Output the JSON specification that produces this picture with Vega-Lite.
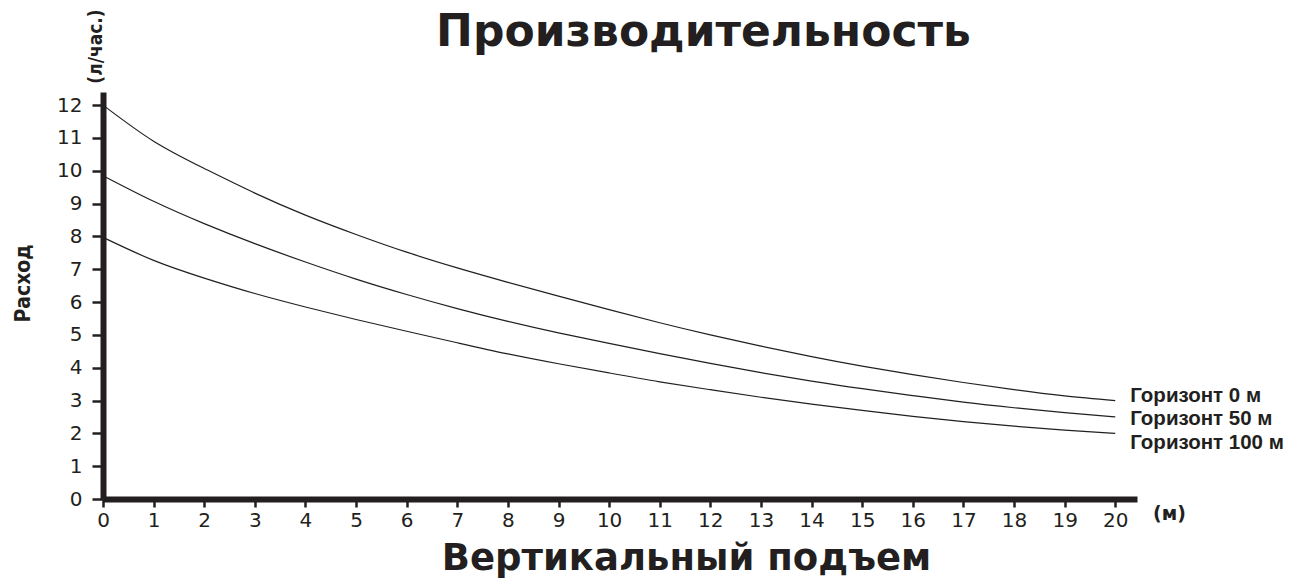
{
  "$schema": "https://vega.github.io/schema/vega-lite/v6.json",
  "width": 1034,
  "height": 407,
  "autosize": {"type": "none"},
  "padding": {"left": 103, "top": 92, "right": 153, "bottom": 81},
  "background": "white",
  "config": {"view": {"stroke": null}},
  "data": {"values": [
    {"x":0,"y":12,"s":"Горизонт 0 м"},{"x":1,"y":10.9,"s":"Горизонт 0 м"},{"x":2,"y":10.07,"s":"Горизонт 0 м"},{"x":3,"y":9.32,"s":"Горизонт 0 м"},{"x":4,"y":8.65,"s":"Горизонт 0 м"},{"x":5,"y":8.06,"s":"Горизонт 0 м"},{"x":6,"y":7.52,"s":"Горизонт 0 м"},{"x":7,"y":7.04,"s":"Горизонт 0 м"},{"x":8,"y":6.6,"s":"Горизонт 0 м"},{"x":9,"y":6.18,"s":"Горизонт 0 м"},{"x":10,"y":5.77,"s":"Горизонт 0 м"},{"x":11,"y":5.37,"s":"Горизонт 0 м"},{"x":12,"y":5.0,"s":"Горизонт 0 м"},{"x":13,"y":4.66,"s":"Горизонт 0 м"},{"x":14,"y":4.34,"s":"Горизонт 0 м"},{"x":15,"y":4.05,"s":"Горизонт 0 м"},{"x":16,"y":3.79,"s":"Горизонт 0 м"},{"x":17,"y":3.55,"s":"Горизонт 0 м"},{"x":18,"y":3.33,"s":"Горизонт 0 м"},{"x":19,"y":3.14,"s":"Горизонт 0 м"},{"x":20,"y":3.0,"s":"Горизонт 0 м"},
    {"x":0,"y":9.85,"s":"Горизонт 50 м"},{"x":1,"y":9.07,"s":"Горизонт 50 м"},{"x":2,"y":8.39,"s":"Горизонт 50 м"},{"x":3,"y":7.78,"s":"Горизонт 50 м"},{"x":4,"y":7.22,"s":"Горизонт 50 м"},{"x":5,"y":6.7,"s":"Горизонт 50 м"},{"x":6,"y":6.23,"s":"Горизонт 50 м"},{"x":7,"y":5.8,"s":"Горизонт 50 м"},{"x":8,"y":5.41,"s":"Горизонт 50 м"},{"x":9,"y":5.06,"s":"Горизонт 50 м"},{"x":10,"y":4.74,"s":"Горизонт 50 м"},{"x":11,"y":4.43,"s":"Горизонт 50 м"},{"x":12,"y":4.13,"s":"Горизонт 50 м"},{"x":13,"y":3.85,"s":"Горизонт 50 м"},{"x":14,"y":3.59,"s":"Горизонт 50 м"},{"x":15,"y":3.36,"s":"Горизонт 50 м"},{"x":16,"y":3.15,"s":"Горизонт 50 м"},{"x":17,"y":2.95,"s":"Горизонт 50 м"},{"x":18,"y":2.78,"s":"Горизонт 50 м"},{"x":19,"y":2.63,"s":"Горизонт 50 м"},{"x":20,"y":2.5,"s":"Горизонт 50 м"},
    {"x":0,"y":7.97,"s":"Горизонт 100 м"},{"x":1,"y":7.27,"s":"Горизонт 100 м"},{"x":2,"y":6.73,"s":"Горизонт 100 м"},{"x":3,"y":6.26,"s":"Горизонт 100 м"},{"x":4,"y":5.85,"s":"Горизонт 100 м"},{"x":5,"y":5.47,"s":"Горизонт 100 м"},{"x":6,"y":5.11,"s":"Горизонт 100 м"},{"x":7,"y":4.76,"s":"Горизонт 100 м"},{"x":8,"y":4.42,"s":"Горизонт 100 м"},{"x":9,"y":4.12,"s":"Горизонт 100 м"},{"x":10,"y":3.84,"s":"Горизонт 100 м"},{"x":11,"y":3.57,"s":"Горизонт 100 м"},{"x":12,"y":3.33,"s":"Горизонт 100 м"},{"x":13,"y":3.1,"s":"Горизонт 100 м"},{"x":14,"y":2.89,"s":"Горизонт 100 м"},{"x":15,"y":2.7,"s":"Горизонт 100 м"},{"x":16,"y":2.52,"s":"Горизонт 100 м"},{"x":17,"y":2.36,"s":"Горизонт 100 м"},{"x":18,"y":2.22,"s":"Горизонт 100 м"},{"x":19,"y":2.1,"s":"Горизонт 100 м"},{"x":20,"y":2.0,"s":"Горизонт 100 м"}
  ]},
  "layer": [
    {
      "mark": {"type": "line", "color": "#231f20", "strokeWidth": 1.2, "interpolate": "natural", "clip": false},
      "encoding": {
        "x": {"field": "x", "type": "quantitative",
              "scale": {"domain": [0, 20.43], "nice": false, "zero": false},
              "axis": {"values": [0,1,2,3,4,5,6,7,8,9,10,11,12,13,14,15,16,17,18,19,20],
                       "grid": false, "domainColor": "#231f20", "domainWidth": 6,
                       "tickColor": "#231f20", "tickWidth": 2.5, "tickSize": 8,
                       "labelFont": "DejaVu Sans", "labelFontSize": 20, "labelColor": "#231f20",
                       "labelPadding": 3, "labelBaseline": "top", "labelFlush": false,
                       "title": "Вертикальный подъем", "titleFont": "DejaVu Sans", "titleFontWeight": "bold",
                       "titleFontSize": 37, "titleColor": "#231f20",
                       "titleX": 583, "titleY": 70, "titleAlign": "center", "titleBaseline": "alphabetic"}},
        "y": {"field": "y", "type": "quantitative",
              "scale": {"domain": [0, 12.4], "nice": false},
              "axis": {"values": [0,1,2,3,4,5,6,7,8,9,10,11,12],
                       "grid": false, "domainColor": "#231f20", "domainWidth": 6,
                       "tickColor": "#231f20", "tickWidth": 2.5, "tickSize": 11,
                       "labelFont": "DejaVu Sans", "labelFontSize": 20, "labelColor": "#231f20",
                       "labelPadding": 10, "labelFlush": false,
                       "title": "Расход", "titleFont": "Liberation Sans Narrow, DejaVu Sans Condensed, Liberation Sans", "titleFontWeight": "bold",
                       "titleFontSize": 21, "titleColor": "#231f20",
                       "titleX": -80, "titleY": 191, "titleAngle": -90, "titleAlign": "center", "titleBaseline": "middle"}},
        "detail": {"field": "s"}
      }
    },
    {
      "transform": [{"filter": "datum.x == 20 && datum.s == 'Горизонт 0 м'"}],
      "mark": {"type": "text", "align": "left", "baseline": "middle", "dx": 15, "dy": -5,
               "font": "Liberation Sans", "fontWeight": "bold", "fontSize": 20.5, "color": "#231f20"},
      "encoding": {
        "x": {"field": "x", "type": "quantitative",
              "axis": {"orient": "top", "domain": false, "ticks": false, "labels": false, "grid": false,
                       "title": "Производительность", "titleFont": "DejaVu Sans", "titleFontWeight": "bold",
                       "titleFontSize": 44, "titleColor": "#231f20",
                       "titleX": 600, "titleY": -47, "titleAlign": "center", "titleBaseline": "alphabetic"}},
        "y": {"field": "y", "type": "quantitative",
              "axis": {"orient": "left", "domain": false, "ticks": false, "labels": false, "grid": false,
                       "title": "(л/час.)", "titleFont": "Liberation Sans Narrow, DejaVu Sans Condensed, Liberation Sans", "titleFontWeight": "bold",
                       "titleFontSize": 19, "titleColor": "#231f20",
                       "titleX": -8, "titleY": -46, "titleAngle": -90, "titleAlign": "center", "titleBaseline": "middle"}},
        "text": {"field": "s"}
      }
    },
    {
      "transform": [{"filter": "datum.x == 20 && datum.s == 'Горизонт 50 м'"}],
      "mark": {"type": "text", "align": "left", "baseline": "middle", "dx": 15, "dy": 2.5,
               "font": "Liberation Sans", "fontWeight": "bold", "fontSize": 20.5, "color": "#231f20"},
      "encoding": {
        "x": {"field": "x", "type": "quantitative",
              "axis": {"orient": "bottom", "domain": false, "ticks": false, "labels": false, "grid": false,
                       "title": "(м)", "titleFont": "DejaVu Sans", "titleFontWeight": "bold",
                       "titleFontSize": 19, "titleColor": "#231f20",
                       "titleX": 1066, "titleY": 14, "titleAlign": "center", "titleBaseline": "middle"}},
        "y": {"field": "y", "type": "quantitative", "axis": null},
        "text": {"field": "s"}
      }
    },
    {
      "transform": [{"filter": "datum.x == 20 && datum.s == 'Горизонт 100 м'"}],
      "mark": {"type": "text", "align": "left", "baseline": "middle", "dx": 15, "dy": 10,
               "font": "Liberation Sans", "fontWeight": "bold", "fontSize": 20.5, "color": "#231f20"},
      "encoding": {
        "x": {"field": "x", "type": "quantitative", "axis": null},
        "y": {"field": "y", "type": "quantitative", "axis": null},
        "text": {"field": "s"}
      }
    }
  ],
  "resolve": {"axis": {"x": "independent", "y": "independent"}}
}
